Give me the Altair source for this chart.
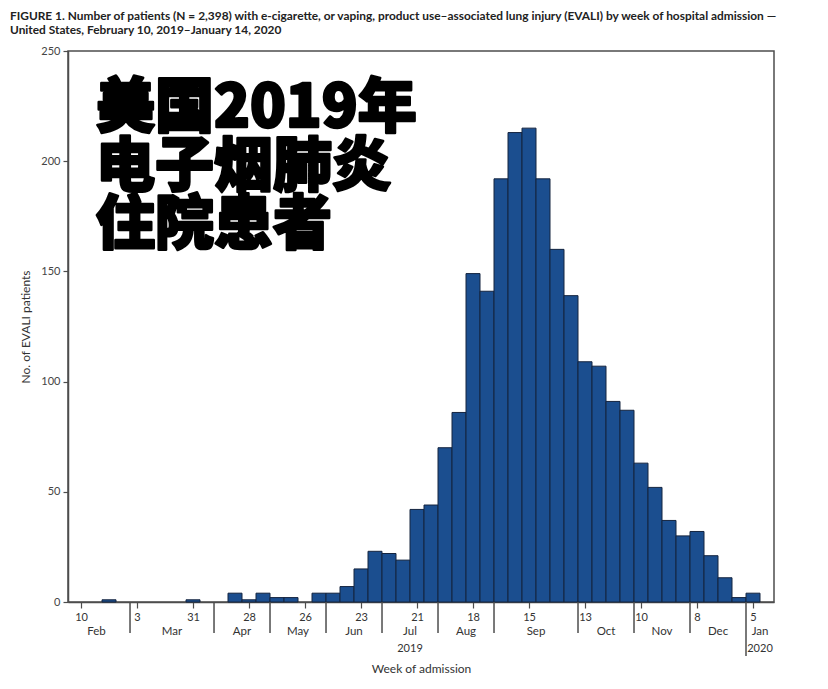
import pandas as pd
import altair as alt

# Weekly EVALI admissions, week 0 = first tick on the axis
counts = [0, 0, 1, 0, 0, 0, 0, 0, 1, 0,
          0, 4, 1, 4, 2, 2, 0, 4, 4, 7,
          15, 23, 22, 19, 42, 44, 70, 86, 149, 141,
          192, 213, 215, 192, 160, 139, 109, 107, 91, 87,
          63, 52, 37, 30, 32, 21, 11, 2, 4, 0]

# Day-of-month labels under the weekly ticks (as printed in the figure)
tick_labels = ["10", "", "17", "", "3", "", "17", "", "31", "",
               "14", "", "28", "", "12", "", "26", "", "9", "",
               "23", "", "7", "", "21", "", "4", "", "18", "",
               "1", "", "15", "", "28", "", "13", "", "27", "",
               "10", "", "24", "", "8", "", "22", "", "5", ""]

month_names = ["Feb", "Mar", "Apr", "May", "Jun", "Jul", "Aug", "Sep", "Oct", "Nov", "Dec", "Jan"]
month_centers = [1.1, 6.5, 11.5, 15.5, 19.5, 23.5, 27.5, 32.5, 37.5, 41.5, 45.5, 48.5]
month_breaks = [3.5, 9.5, 13.5, 17.5, 21.5, 25.5, 29.5, 35.5, 39.5, 43.5]
year_names = ["2019", "2020"]
year_centers = [23.5, 48.5]
year_breaks = [47.5]

title_lines = [
    "FIGURE 1. Number of patients (N = 2,398) with e-cigarette, or vaping, product use\u2013associated lung injury (EVALI) by week of hospital admission \u2014",
    "United States, February 10, 2019\u2013January 14, 2020",
]
headline = ["美国2019年", "电子烟肺炎", "住院患者"]

W, H = 706, 551
AXIS = "#4d4d4d"
FONT = "Lato"

weeks = pd.DataFrame({"week": range(len(counts)), "patients": counts})
weeks = weeks[weeks.patients > 0].copy()
weeks["start"] = weeks.week - 0.5
weeks["end"] = weeks.week + 0.5

x_scale = alt.Scale(domain=[-0.93, 49.5], nice=False, zero=False)
y_scale = alt.Scale(domain=[0, 250], nice=False)

label_expr = "[" + ",".join(f"'{t}'" for t in tick_labels) + "][datum.value]"

bars = alt.Chart(weeks).mark_bar(
    color="#1b4e8f", stroke="#14243f", strokeWidth=1
).encode(
    x=alt.X("start:Q", scale=x_scale,
            axis=alt.Axis(values=list(range(len(counts))), labelExpr=label_expr,
                          tickSize=6, labelPadding=3, labelFontSize=11, grid=False,
                          labelFlush=False, labelOverlap=False,
                          title="Week of admission", titleY=66, titleBaseline="middle")),
    x2="end:Q",
    y=alt.Y("patients:Q", scale=y_scale,
            axis=alt.Axis(values=[0, 50, 100, 150, 200, 250], tickSize=5, labelPadding=3,
                          labelFontSize=11, labelColor="#444", grid=False,
                          title="No. of EVALI patients", titlePadding=8)),
    y2=alt.datum(0),
)

seps = alt.Chart(pd.DataFrame({"pos": month_breaks})).mark_rule(
    color=AXIS, strokeWidth=1.5
).encode(x=alt.X("pos:Q", scale=x_scale), y=alt.value(H), y2=alt.value(H + 31))

year_sep = alt.Chart(pd.DataFrame({"pos": year_breaks})).mark_rule(
    color=AXIS, strokeWidth=1.5
).encode(x=alt.X("pos:Q", scale=x_scale), y=alt.value(H), y2=alt.value(H + 54))

months = alt.Chart(pd.DataFrame({"pos": month_centers, "name": month_names})).mark_text(
    font=FONT, fontSize=11.5, color="#333", baseline="middle"
).encode(x=alt.X("pos:Q", scale=x_scale), y=alt.value(H + 30), text="name:N")

years = alt.Chart(pd.DataFrame({"pos": year_centers, "name": year_names})).mark_text(
    font=FONT, fontSize=11, color="#333", baseline="middle"
).encode(x=alt.X("pos:Q", scale=x_scale), y=alt.value(H + 47), text="name:N")

# figure caption above the plot box
caption = alt.Chart(pd.DataFrame({"t": ["\n".join(title_lines)]})).mark_text(
    font=FONT, fontSize=11.9, fontWeight="bold", color="#222",
    align="left", baseline="alphabetic", lineBreak="\n", lineHeight=14.5
).encode(x=alt.value(-58), y=alt.value(-31.5), text="t:N")

big = alt.Chart(pd.DataFrame({"t": ["\n".join(headline)]})).mark_text(
    font="Noto Sans CJK SC", fontSize=59, fontWeight=900, color="black",
    stroke="black", strokeWidth=2.5, strokeJoin="round",
    align="left", baseline="alphabetic", lineBreak="\n", lineHeight=58.5
).encode(x=alt.value(28), y=alt.value(76), text="t:N")

chart = alt.layer(bars, seps, year_sep, months, years, caption, big).properties(
    width=W, height=H,
    autosize=alt.AutoSizeParams(type="none"),
    padding={"left": 60, "top": 43, "right": 40, "bottom": 76},
).configure_view(
    stroke=AXIS, strokeWidth=1.5
).configure_axis(
    domainColor=AXIS, domainWidth=1.5, tickColor=AXIS, tickWidth=1.2,
    labelFont=FONT, labelColor="#333", titleFont=FONT, titleFontSize=12,
    titleFontWeight="normal", titleColor="#333"
)

chart.save("out.html", embed_options={"renderer": "svg", "actions": False})
